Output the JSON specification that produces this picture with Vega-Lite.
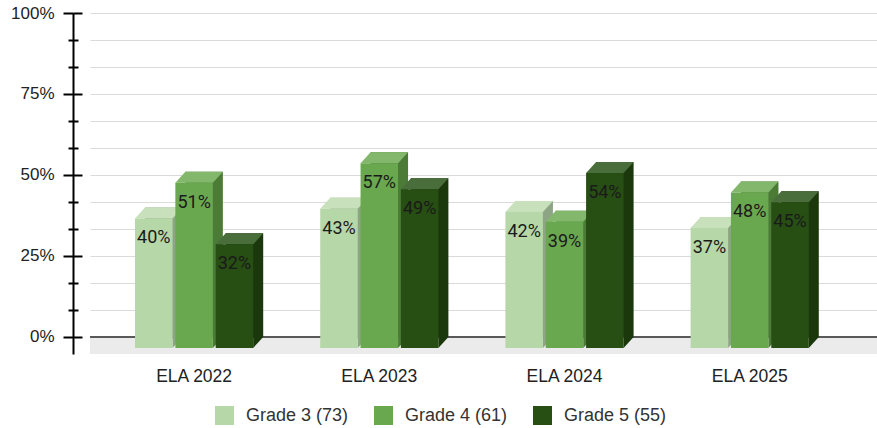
{
  "$schema": "https://vega.github.io/schema/vega-lite/v6.json",
  "width": 787,
  "height": 341,
  "autosize": {"type": "none"},
  "padding": {"left": 90, "top": 13, "right": 0, "bottom": 74},
  "background": "white",
  "config": {"view": {"stroke": null}, "font": "Liberation Sans"},
  "datasets": {
    "scores": [
      {"exam": "ELA 2022", "grade": "Grade 3 (73)", "pct": 0.40},
      {"exam": "ELA 2022", "grade": "Grade 4 (61)", "pct": 0.51},
      {"exam": "ELA 2022", "grade": "Grade 5 (55)", "pct": 0.32},
      {"exam": "ELA 2023", "grade": "Grade 3 (73)", "pct": 0.43},
      {"exam": "ELA 2023", "grade": "Grade 4 (61)", "pct": 0.57},
      {"exam": "ELA 2023", "grade": "Grade 5 (55)", "pct": 0.49},
      {"exam": "ELA 2024", "grade": "Grade 3 (73)", "pct": 0.42},
      {"exam": "ELA 2024", "grade": "Grade 4 (61)", "pct": 0.39},
      {"exam": "ELA 2024", "grade": "Grade 5 (55)", "pct": 0.54},
      {"exam": "ELA 2025", "grade": "Grade 3 (73)", "pct": 0.37},
      {"exam": "ELA 2025", "grade": "Grade 4 (61)", "pct": 0.48},
      {"exam": "ELA 2025", "grade": "Grade 5 (55)", "pct": 0.45}
    ]
  },
  "data": {"name": "scores"},
  "layer": [
    {
      "data": {"values": [{}]},
      "mark": {"type": "rect", "color": "#ebebeb"},
      "encoding": {
        "y": {
          "datum": 0, "type": "quantitative", "title": null,
          "axis": {
            "orient": "left", "title": null, "offset": 17, "domain": false, "labels": false,
            "grid": false, "tickCount": 30,
            "values": [0, 0.083333, 0.166667, 0.25, 0.333333, 0.416667, 0.5, 0.583333, 0.666667, 0.75, 0.833333, 0.916667, 1],
            "tickColor": "#000", "tickWidth": 2,
            "tickSize": {"condition": {"test": "abs(datum.value * 4 - round(datum.value * 4)) < 0.001", "value": -9}, "value": -5}
          }
        },
        "y2": {"datum": -0.0525}
      }
    },
    {
      "data": {"values": [{}]},
      "mark": {"type": "rule", "color": "#595959", "strokeWidth": 2},
      "encoding": {
        "y": {"datum": 0, "type": "quantitative", "title": null, "axis": null}
      }
    },
    {
      "mark": {"type": "bar", "strokeWidth": 0},
      "encoding": {
        "x": {
          "field": "exam", "type": "nominal", "title": null,
          "scale": {"paddingInner": 0.34665, "paddingOuter": 0.2981, "align": 0.395},
          "axis": {
            "title": null, "domain": false, "ticks": false, "grid": false,
            "labelPadding": 13, "labelFont": "Liberation Sans", "labelFontSize": 17.5,
            "labelColor": "#222", "labelAngle": 0
          }
        },
        "xOffset": {
          "field": "grade", "type": "nominal",
          "scale": {"type": "band", "range": [10, 131], "paddingInner": 0.07, "paddingOuter": 0.035}
        },
        "y": {
          "field": "pct", "type": "quantitative", "title": null,
          "scale": {"domain": [-0.0525, 1], "nice": false, "zero": false},
          "axis": {
            "orient": "left", "title": null, "grid": true, "labelOverlap": false, "tickCount": 30,
            "values": [0, 0.083333, 0.166667, 0.25, 0.333333, 0.416667, 0.5, 0.583333, 0.666667, 0.75, 0.833333, 0.916667, 1],
            "labelExpr": "abs(datum.value * 4 - round(datum.value * 4)) < 0.001 ? format(datum.value, '.0%') : ''",
            "offset": 17,
            "domainColor": "#000", "domainWidth": 2,
            "tickColor": "#000", "tickWidth": 2,
            "tickSize": {"condition": {"test": "abs(datum.value * 4 - round(datum.value * 4)) < 0.001", "value": 10}, "value": 5},
            "labelPadding": 9, "labelFont": "Liberation Sans", "labelFontSize": 17,
            "labelColor": "#222",
            "gridColor": "#dadada", "gridWidth": 1
          }
        },
        "y2": {"datum": 0},
        "color": {
          "field": "grade", "type": "nominal", "legend": null,
          "scale": {"domain": ["Grade 3 (73)", "Grade 4 (61)", "Grade 5 (55)"], "range": ["#8da584", "#4b7b37", "#1b380c"]}
        }
      }
    },
    {
      "mark": {"type": "point", "shape": "M-1,0L1,0L0.4667,0.5867L-1.5333,0.5867Z", "size": 1406.25, "filled": true, "opacity": 1, "strokeWidth": 0},
      "encoding": {
        "x": {"field": "exam", "type": "nominal", "title": null},
        "xOffset": {
          "field": "grade", "type": "nominal",
          "scale": {"type": "band", "range": [10, 131], "paddingInner": 0.07, "paddingOuter": 0.035}
        },
        "y": {"field": "pct", "type": "quantitative", "title": null, "axis": null},
        "color": {
          "field": "grade", "type": "nominal", "legend": null,
          "scale": {"domain": ["Grade 3 (73)", "Grade 4 (61)", "Grade 5 (55)"], "range": ["#c8e0bc", "#83b86c", "#4a6e3b"]}
        }
      }
    },
    {
      "mark": {"type": "point", "shape": "M0.4667,0L1,0L0.4667,0.5867Z", "size": 1406.25, "filled": true, "opacity": 1, "strokeWidth": 0},
      "encoding": {
        "x": {"field": "exam", "type": "nominal", "title": null},
        "xOffset": {
          "field": "grade", "type": "nominal",
          "scale": {"type": "band", "range": [10, 131], "paddingInner": 0.07, "paddingOuter": 0.035}
        },
        "y": {"datum": 0, "type": "quantitative", "title": null, "axis": null},
        "color": {
          "field": "grade", "type": "nominal", "legend": null,
          "scale": {"domain": ["Grade 3 (73)", "Grade 4 (61)", "Grade 5 (55)"], "range": ["#8da584", "#4b7b37", "#1b380c"]}
        }
      }
    },
    {
      "mark": {"type": "bar", "strokeWidth": 0, "yOffset": 11, "y2Offset": 11},
      "encoding": {
        "x": {"field": "exam", "type": "nominal", "title": null},
        "xOffset": {
          "field": "grade", "type": "nominal",
          "scale": {"type": "band", "range": [0, 121], "paddingInner": 0.07, "paddingOuter": 0.035}
        },
        "y": {"field": "pct", "type": "quantitative", "title": null, "axis": null},
        "y2": {"datum": 0},
        "color": {
          "field": "grade", "type": "nominal",
          "scale": {"domain": ["Grade 3 (73)", "Grade 4 (61)", "Grade 5 (55)"], "range": ["#b6d7a8", "#6aa84f", "#274e13"]},
          "legend": {
            "orient": "none", "legendX": 125, "legendY": 393, "direction": "horizontal",
            "title": null, "symbolType": "square", "symbolSize": 361, "symbolStrokeWidth": 0,
            "labelFont": "Liberation Sans", "labelFontSize": 18, "labelColor": "#333",
            "labelOffset": 12, "columnPadding": 25, "labelLimit": 200
          }
        }
      }
    },
    {
      "mark": {"type": "text", "font": "Roboto", "fontSize": 18, "color": "#1a1a1a", "yOffset": 31, "baseline": "middle", "align": "center"},
      "encoding": {
        "x": {"field": "exam", "type": "nominal", "title": null},
        "xOffset": {
          "field": "grade", "type": "nominal",
          "scale": {"type": "band", "range": [0, 121], "paddingInner": 0.07, "paddingOuter": 0.035}
        },
        "y": {"field": "pct", "type": "quantitative", "title": null, "axis": null},
        "text": {"field": "pct", "type": "quantitative", "format": ".0%"}
      }
    }
  ],
  "resolve": {"scale": {"xOffset": "independent", "color": "independent"}, "axis": {"y": "independent"}}
}
